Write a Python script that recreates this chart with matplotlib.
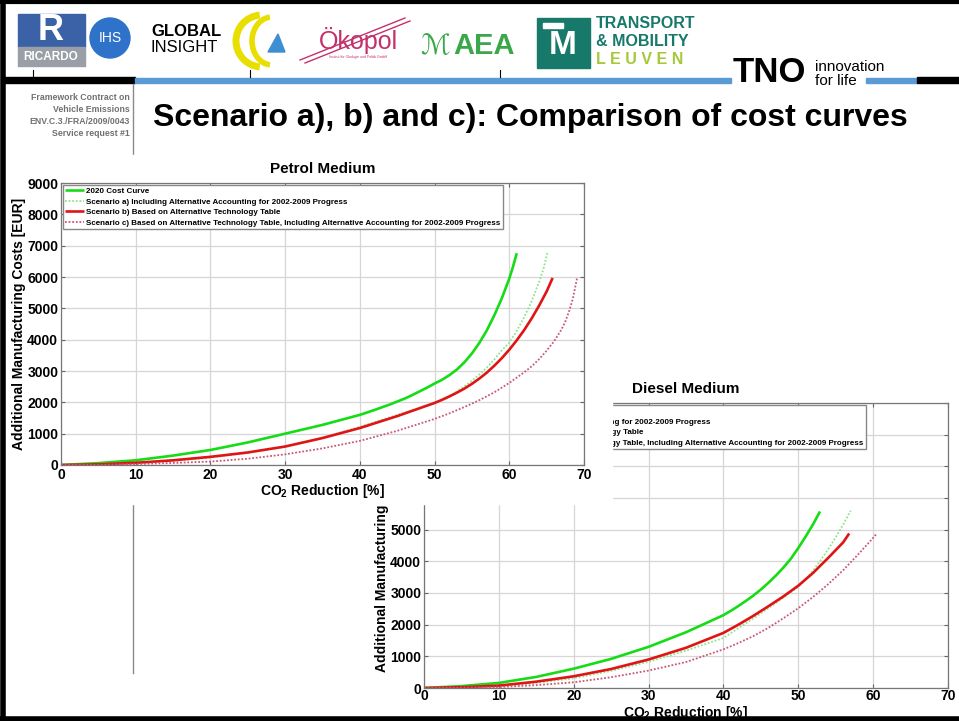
import matplotlib
matplotlib.use('Agg')
import matplotlib.pyplot as plt
from matplotlib.patches import Rectangle, Circle, Arc, Polygon

W, H = 959, 721
plt.rcParams['font.family'] = ['Liberation Sans', 'DejaVu Sans']
plt.rcParams['mathtext.fontset'] = 'custom'
plt.rcParams['mathtext.rm'] = 'Liberation Sans:bold'
plt.rcParams['mathtext.it'] = 'Liberation Sans:bold:italic'
plt.rcParams['mathtext.bf'] = 'Liberation Sans:bold'

# ---------------- data ----------------
slide_title = "Scenario a), b) and c): Comparison of cost curves"
side_lines = ["Framework Contract on", "Vehicle Emissions",
              "ENV.C.3./FRA/2009/0043", "Service request #1"]
x_ticks = [0, 10, 20, 30, 40, 50, 60, 70]
y_ticks = [0, 1000, 2000, 3000, 4000, 5000, 6000, 7000, 8000, 9000]
series_labels = [
    "2020 Cost Curve",
    "Scenario a) Including Alternative Accounting for 2002-2009 Progress",
    "Scenario b) Based on Alternative Technology Table",
    "Scenario c) Based on Alternative Technology Table, Including Alternative Accounting for 2002-2009 Progress",
]

# Petrol Medium
petrol_x_2020 = [0, 5, 10, 15, 20, 25, 30, 35, 40, 42, 44, 46, 47, 48, 49, 50, 51, 52, 53, 54, 55, 56, 57, 58, 59, 60, 60.5, 61.0]
petrol_y_2020 = [0, 60, 150, 300, 480, 720, 1000, 1280, 1600, 1760, 1930, 2120, 2230, 2350, 2470, 2600, 2720, 2870, 3050, 3280, 3560, 3900, 4300, 4780, 5320, 5950, 6330, 6760]
petrol_x_a = [0, 5, 10, 15, 20, 25, 30, 35, 40, 45, 50, 51, 52, 53, 54, 55, 56, 57, 58, 59, 60, 61, 62, 63, 64, 64.6, 65.1]
petrol_y_a = [0, 15, 55, 130, 240, 390, 580, 870, 1220, 1600, 1980, 2090, 2210, 2350, 2510, 2690, 2890, 3110, 3370, 3660, 3900, 4280, 4720, 5230, 5850, 6280, 6780]
petrol_x_b = [0, 5, 10, 15, 20, 25, 30, 35, 40, 45, 50, 51, 52, 53, 54, 55, 56, 57, 58, 59, 60, 61, 62, 63, 64, 65, 65.8]
petrol_y_b = [0, 20, 70, 150, 260, 400, 590, 860, 1180, 1560, 1980, 2080, 2190, 2310, 2440, 2590, 2760, 2950, 3170, 3410, 3680, 3980, 4310, 4680, 5090, 5540, 5970]
petrol_x_c = [0, 5, 10, 15, 20, 25, 30, 35, 40, 45, 50, 52, 54, 56, 58, 60, 61, 62, 63, 64, 65, 66, 67, 67.5, 68, 68.5, 69.1]
petrol_y_c = [0, 5, 30, 65, 110, 200, 340, 530, 770, 1090, 1470, 1650, 1850, 2070, 2320, 2620, 2790, 2960, 3150, 3380, 3650, 3950, 4330, 4580, 4900, 5300, 6000]

# Diesel Medium
diesel_x_2020 = [0, 5, 10, 15, 20, 25, 30, 35, 40, 41, 42, 43, 44, 45, 46, 47, 48, 49, 50, 51, 52, 52.9]
diesel_y_2020 = [0, 60, 160, 350, 610, 920, 1300, 1760, 2300, 2440, 2590, 2750, 2920, 3110, 3320, 3550, 3800, 4080, 4420, 4790, 5180, 5575]
diesel_x_a = [0, 5, 10, 15, 20, 25, 30, 35, 40, 44, 46, 48, 50, 51, 52, 53, 54, 55, 56, 57]
diesel_y_a = [0, 15, 55, 160, 310, 540, 830, 1180, 1580, 2200, 2520, 2850, 3200, 3430, 3720, 4040, 4380, 4760, 5160, 5600]
diesel_x_b = [0, 5, 10, 15, 20, 25, 30, 35, 40, 42, 44, 46, 48, 50, 52, 54, 56, 56.8]
diesel_y_b = [0, 25, 75, 200, 370, 600, 900, 1270, 1740, 2000, 2280, 2580, 2890, 3230, 3640, 4110, 4600, 4880]
diesel_x_c = [0, 5, 10, 15, 20, 25, 30, 35, 40, 42, 44, 46, 48, 50, 52, 54, 56, 58, 59, 60, 60.5]
diesel_y_c = [0, 10, 30, 90, 180, 340, 550, 820, 1220, 1420, 1640, 1900, 2200, 2520, 2880, 3280, 3720, 4220, 4480, 4740, 4880]

# ---------------- styles ----------------
C_GREEN = '#16dc16'
C_LGREEN = '#8fe38f'
C_RED = '#e01414'
C_PINK = '#c85a74'
styles = [
    dict(color=C_GREEN, lw=1.9, ls='-'),
    dict(color=C_LGREEN, lw=1.3, ls=(0, (1, 1))),
    dict(color=C_RED, lw=1.9, ls='-'),
    dict(color=C_PINK, lw=1.3, ls=(0, (1, 1))),
]


def rect(x0, y0, x1, y1):
    return [x0 / W, 1 - y1 / H, (x1 - x0) / W, (y1 - y0) / H]


fig = plt.figure(figsize=(W / 100, H / 100), dpi=100)

# background / header layer
bg = fig.add_axes([0, 0, 1, 1], zorder=0)
bg.set_xlim(0, W)
bg.set_ylim(H, 0)
bg.axis('off')

# slide frame
bg.plot([3, 3], [0, H], color='black', lw=4, solid_capstyle='butt')
bg.plot([0, W], [1.5, 1.5], color='black', lw=3)
bg.plot([0, W], [719, 719], color='black', lw=4)

# header bar
bg.add_patch(Rectangle((4, 77), 131, 6, color='black'))
bg.add_patch(Rectangle((135, 78), 596, 5, color='#5b9bd5'))
bg.add_patch(Rectangle((866, 78), 51, 5, color='#5b9bd5'))
bg.add_patch(Rectangle((917, 77), 42, 6, color='black'))
for xv in [33, 250, 500]:
    bg.plot([xv, xv], [70, 77], color='black', lw=0.8)
# separator line
bg.plot([133, 133], [84, 673], color='#8a8a8a', lw=1)

# logos (approximations)
bg.add_patch(Rectangle((18, 14), 67, 33, color='#3b62a6'))
bg.text(51, 31, 'R', color='white', fontsize=26, fontweight='bold', ha='center', va='center')
bg.add_patch(Rectangle((18, 47), 67, 19, color='#9a9ea6'))
bg.text(51, 57, 'RICARDO', color='white', fontsize=8.5, fontweight='bold', ha='center', va='center')
bg.add_patch(Circle((110, 38), 20, color='#2f72c9'))
bg.text(110, 38, 'IHS', color='white', fontsize=10, ha='center', va='center')
bg.text(151, 31, 'GLOBAL', fontsize=12, fontweight='bold', va='center',
        family=['Liberation Sans Narrow', 'Liberation Sans'])
bg.text(151, 48, 'INSIGHT', fontsize=12, va='center',
        family=['Liberation Sans Narrow', 'Liberation Sans'])
bg.add_patch(Arc((262, 41), 52, 52, theta1=95, theta2=265, color='#e8de00', lw=5))
bg.add_patch(Arc((272, 41), 40, 48, theta1=95, theta2=265, color='#e8de00', lw=4))
bg.add_patch(Polygon([[268, 52], [285, 52], [278, 34]], color='#3d8fd2'))
bg.plot([300, 405], [60, 18], color='#c4306a', lw=1)
bg.plot([305, 410], [63, 21], color='#c4306a', lw=1)
bg.text(358, 40, 'Ökopol', color='#c4306a', fontsize=18, ha='center', va='center')
bg.text(358, 57, 'Institut für Ökologie und Politik GmbH', color='#c4306a', fontsize=2.5,
        ha='center', va='center')
bg.text(435, 46, 'ℳ', color='#3aa84a', fontsize=20, ha='center', va='center', style='italic',
        family=['DejaVu Sans'])
bg.text(484, 46, 'AEA', color='#3aa84a', fontsize=21, fontweight='bold', ha='center', va='center')
bg.add_patch(Rectangle((537, 18), 53, 50, color='#16796a'))
bg.text(563, 45, 'M', color='white', fontsize=24, fontweight='bold', ha='center', va='center')
bg.add_patch(Rectangle((543, 23), 20, 5, color='white'))
bg.text(596, 24, 'TRANSPORT', color='#16796a', fontsize=11.5, fontweight='bold', va='center')
bg.text(596, 42, '& MOBILITY', color='#16796a', fontsize=11.5, fontweight='bold', va='center')
bg.text(596, 60, 'L E U V E N', color='#a5c83a', fontsize=11.5, fontweight='bold', va='center')
bg.text(733, 73, 'TNO', color='black', fontsize=25, fontweight='heavy', va='center')
bg.text(815, 67, 'innovation', color='black', fontsize=11, va='center')
bg.text(815, 81, 'for life', color='black', fontsize=11, va='center')

# titles
bg.text(153, 118, slide_title, fontsize=23, fontweight='bold', va='center')
for i, line in enumerate(side_lines):
    bg.text(130, 98 + 12 * i, line, fontsize=6.3, fontweight='bold', color='#707070',
            ha='right', va='center', family=['Liberation Sans Narrow', 'Liberation Sans'])


def style_axes(ax, title, xlabelpad, xtickpad):
    ax.set_xlim(0, 70)
    ax.set_ylim(0, 9000)
    ax.set_xticks(x_ticks)
    ax.set_yticks(y_ticks)
    ax.set_xticklabels([str(v) for v in x_ticks])
    ax.set_yticklabels([str(v) for v in y_ticks])
    ax.tick_params(direction='in', length=3, width=0.8, colors='#666666', labelcolor='black',
                   labelsize=10, pad=2, top=True, right=True)
    ax.tick_params(axis='x', pad=xtickpad)
    for lbl in ax.get_xticklabels() + ax.get_yticklabels():
        lbl.set_fontweight('bold')
    for s in ax.spines.values():
        s.set_color('#777777')
        s.set_linewidth(0.9)
    ax.grid(True, color='#d6d6d6', lw=0.9)
    ax.set_axisbelow(True)
    ax.set_xlabel('CO$_2$ Reduction [%]', fontsize=10, fontweight='bold', labelpad=xlabelpad)
    ax.set_ylabel('Additional Manufacturing Costs [EUR]', fontsize=10, fontweight='bold', labelpad=1)
    ax.set_title(title, fontsize=11, fontweight='bold', pad=7)


def draw_series(ax, xs_ys):
    handles = []
    for (xs, ys), st, lab in zip(xs_ys, styles, series_labels):
        h, = ax.plot(xs, ys, color=st['color'], lw=st['lw'], ls=st['ls'], label=lab,
                     solid_capstyle='butt', solid_joinstyle='round')
        handles.append(h)
    ax.legend(handles=handles, loc='upper left', bbox_to_anchor=(0.004, 0.993),
              borderaxespad=0, prop={'weight': 'bold', 'size': 5.75},
              frameon=True, fancybox=False, edgecolor='#888888', framealpha=1,
              borderpad=0.3, labelspacing=0.38, handlelength=2.3, handletextpad=0.3)


# Diesel chart (drawn first, partly hidden)
axd = fig.add_axes(rect(424, 403, 948, 688), zorder=1)
draw_series(axd, [(diesel_x_2020, diesel_y_2020), (diesel_x_a, diesel_y_a),
                  (diesel_x_b, diesel_y_b), (diesel_x_c, diesel_y_c)])
style_axes(axd, 'Diesel Medium', 0.3, 1)

# white cover of the petrol picture
cov = fig.add_axes([0, 0, 1, 1], zorder=2)
cov.set_xlim(0, W)
cov.set_ylim(H, 0)
cov.axis('off')
cov.add_patch(Rectangle((8, 155), 604, 349, color='white'))

# Petrol chart on top
axp = fig.add_axes(rect(61, 183, 584, 465), zorder=3)
draw_series(axp, [(petrol_x_2020, petrol_y_2020), (petrol_x_a, petrol_y_a),
                  (petrol_x_b, petrol_y_b), (petrol_x_c, petrol_y_c)])
style_axes(axp, 'Petrol Medium', 0.3, 2)

fig.savefig('out.png', dpi=100)
